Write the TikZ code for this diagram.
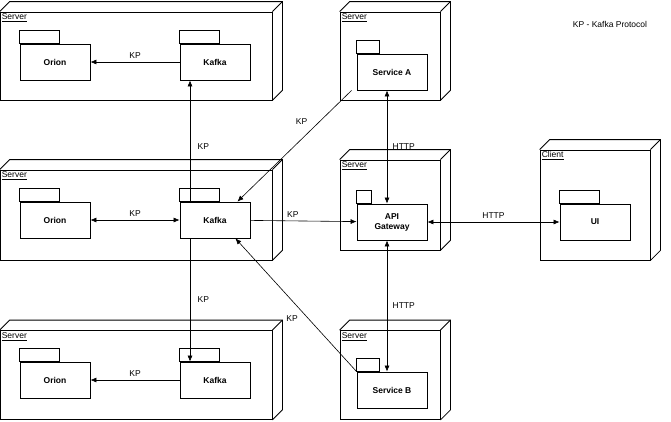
\documentclass[tikz,border=0pt]{standalone}
\usepackage{fontspec}
\setmainfont{Liberation Sans}
\usetikzlibrary{arrows.meta,positioning}

\tikzset{
  srv/.style={draw, rectangle, inner sep=0pt, line width=0.8pt},
  pkg/.style={draw, rectangle, inner sep=0pt, minimum width=70pt, minimum height=36pt,
              font=\bfseries\fontsize{8.5}{10}\selectfont, align=center, line width=0.8pt},
  lbl/.style={font=\fontsize{8.5}{10}\selectfont},
  link/.style={line width=0.6pt, -{Latex[length=6pt,width=5pt]}},
  both/.style={line width=0.6pt, {Latex[length=6pt,width=5pt]}-{Latex[length=6pt,width=5pt]}}
}

\begin{document}
\begin{tikzpicture}[x=1pt,y=-1pt]
  \useasboundingbox (0,0) rectangle (671,421);

  % servers
  \node[srv, minimum width=272pt, minimum height=88pt] (s1) at (136,56) {};
  \node[srv, minimum width=272pt, minimum height=90pt] (s2) at (136,215) {};
  \node[srv, minimum width=272pt, minimum height=89pt] (s3) at (136,375) {};
  \node[srv, minimum width=100pt, minimum height=88pt] (sa) at (390,56) {};
  \node[srv, minimum width=100pt, minimum height=90pt] (sg) at (390,205) {};
  \node[srv, minimum width=100pt, minimum height=89pt] (sb) at (390,375) {};
  \node[srv, minimum width=110pt, minimum height=110pt] (sc) at (595,205) {};

  \foreach \s/\t in {s1/Server,s2/Server,s3/Server,sa/Server,sg/Server,sb/Server,sc/Client}{
    \draw[line width=0.8pt] (\s.north west) -- ++(10,-10) -- ([shift={(10,-10)}]\s.north east)
      -- ([shift={(10,-10)}]\s.south east) -- (\s.south east);
    \draw[line width=0.8pt] (\s.north east) -- ++(10,-10);
    \node[lbl, anchor=north west, inner sep=2pt] at (\s.north west) {\underline{\t}};
  }

  % packages
  \node[pkg] (orion1) at (55,62) {Orion};
  \node[pkg] (kafka1) at (215,62) {Kafka};
  \node[pkg] (orion2) at (55,220) {Orion};
  \node[pkg] (kafka2) at (215,220) {Kafka};
  \node[pkg] (orion3) at (55,380) {Orion};
  \node[pkg] (kafka3) at (215,380) {Kafka};
  \node[pkg] (svca) at (392,72) {Service A};
  \node[pkg] (gw) at (392,222) {API\\Gateway};
  \node[pkg] (svcb) at (392,390) {Service B};
  \node[pkg] (ui) at (595,222) {UI};

  \foreach \p/\w in {orion1/40,kafka1/40,orion2/40,kafka2/40,orion3/40,kafka3/40,svca/23,gw/15,svcb/23,ui/40}
    \draw[line width=0.8pt] (\p.north west) rectangle ++(\w,-13);

  % connectors
  \draw[link] (kafka1) -- node[lbl, above] {KP} (orion1);
  \draw[both] (orion2) -- node[lbl, above] {KP} (kafka2);
  \draw[link] (kafka3) -- node[lbl, above] {KP} (orion3);
  \draw[link] ([xshift=-25pt]kafka2.north) -- node[lbl, right=4pt, pos=0.45] {KP} ([xshift=-25pt]kafka1.south);
  \draw[link] ([xshift=-25pt]kafka2.south) -- node[lbl, right=4pt, pos=0.5] {KP} ([xshift=-25pt]kafka3.north);
  \draw[link] ([xshift=-5pt]svca.south west) -- node[lbl, pos=0.35, above left=1pt] {KP} ([xshift=-13pt]kafka2.north east);
  \draw[link] (kafka2) -- node[lbl, above, pos=0.4] {KP} (gw);
  \draw[link] (svcb.north west) -- node[lbl, pos=0.45, below left=1pt] {KP} ([xshift=-15pt]kafka2.south east);
  \draw[both] ([xshift=-5pt]svca.south) -- node[lbl, right=2pt] {HTTP} ([xshift=-5pt]gw.north);
  \draw[both] ([xshift=-5pt]gw.south) -- node[lbl, right=2pt] {HTTP} ([xshift=-5pt]svcb.north);
  \draw[both] (gw) -- node[lbl, above] {HTTP} (ui);

  \node[lbl] (legend) at (610,24) {KP - Kafka Protocol};
\end{tikzpicture}
\end{document}
